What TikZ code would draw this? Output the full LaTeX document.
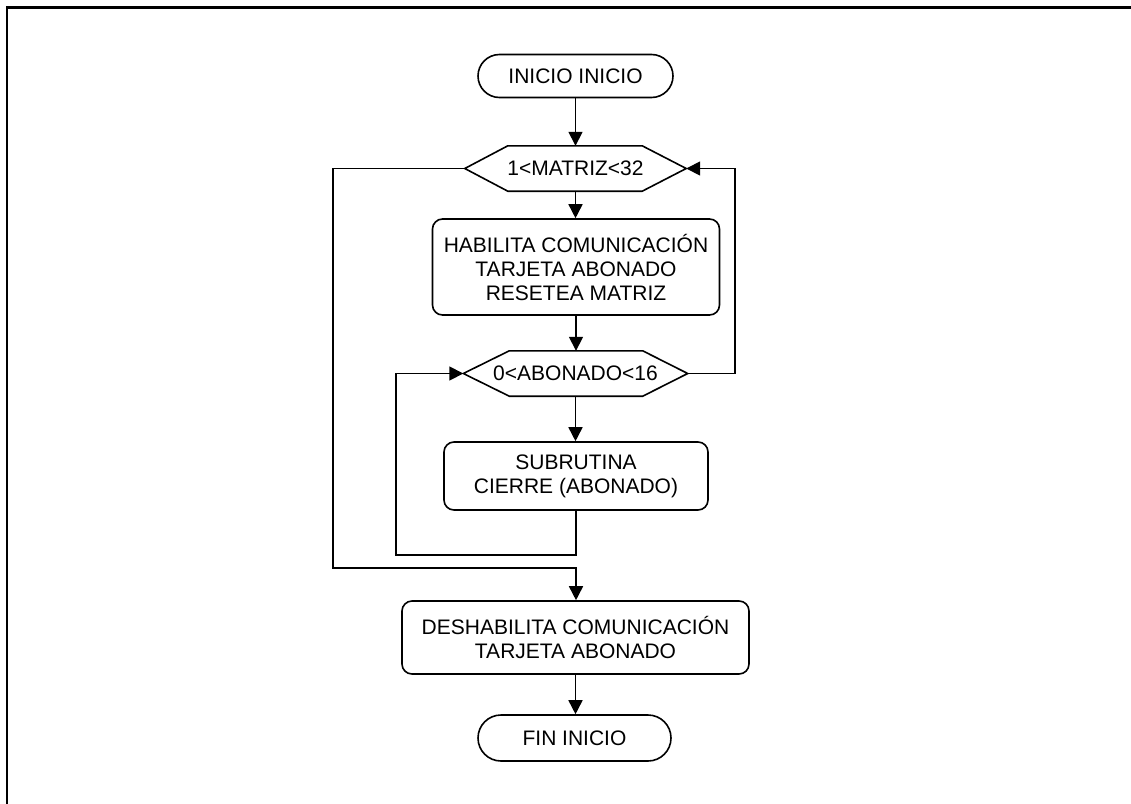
\documentclass[tikz,border=0pt]{standalone}
\usepackage{fontspec}
\setmainfont{Liberation Sans}
\usetikzlibrary{arrows.meta,shapes.misc,calc}
\begin{document}
\begin{tikzpicture}[x=1pt,y=-1pt,
  every node/.style={font=\fontsize{21}{24}\selectfont, align=center, inner sep=0pt},
  term/.style={rounded rectangle, draw, line width=1.6pt, minimum width=195, minimum height=43},
  proc/.style={rectangle, rounded corners=10, draw, line width=1.6pt},
  hexa/.style={rectangle, draw=none, minimum height=45},
  conn/.style={line width=1.6pt},
  arr/.style={conn, -{Triangle[length=14pt,width=14pt]}}]
\useasboundingbox (0,0) rectangle (1131,803);
\draw[line width=2.6pt] (7,830) -- (7,7.5) -- (1140,7.5);

\node[term] (t1) at (575.5,76) {INICIO INICIO};
\node[hexa, minimum width=221] (h1) at (575.5,168.5) {1<MATRIZ<32};
\draw[conn] (h1.west) -- ($(h1.north west)+(43,0)$) -- ($(h1.north east)+(-44,0)$) -- (h1.east)
  -- ($(h1.south east)+(-44,0)$) -- ($(h1.south west)+(43,0)$) -- cycle;
\node[proc, minimum width=287, minimum height=96] (b1) at (576,267) {HABILITA COMUNICACIÓN\\TARJETA ABONADO\\RESETEA MATRIZ};
\node[hexa, minimum width=224] (h2) at (575.5,373.5) {0<ABONADO<16};
\draw[conn] (h2.west) -- ($(h2.north west)+(46,0)$) -- ($(h2.north east)+(-45,0)$) -- (h2.east)
  -- ($(h2.south east)+(-45,0)$) -- ($(h2.south west)+(46,0)$) -- cycle;
\node[proc, minimum width=264, minimum height=68] (b2) at (576,476) {SUBRUTINA\\CIERRE (ABONADO)};
\node[proc, minimum width=347, minimum height=73] (b3) at (575.5,637.5) {DESHABILITA COMUNICACIÓN\\TARJETA ABONADO};
\node[term, minimum width=193, minimum height=46] (t2) at (574.5,738) {FIN INICIO};

\coordinate (c1) at (576,555);
\coordinate (c2) at (396,555);
\coordinate (c3) at (396,373.5);
\coordinate (r1) at (735,373.5);
\coordinate (r2) at (735,168.5);
\coordinate (l1) at (333,168.5);
\coordinate (l2) at (333,568);
\coordinate (l3) at (576,568);

\draw[arr] (t1.south -| h1.north) -- (h1.north);
\draw[arr] (h1.south) -- (h1.south |- b1.north);
\draw[arr] (b1.south) -- (b1.south |- h2.north);
\draw[arr] (h2.south) -- (h2.south |- b2.north);
\draw[arr] (b2.south) -- (c1) -- (c2) -- (c3) -- (h2.west);
\draw[arr] (h2.east) -- (r1) -- (r2) -- (h1.east);
\draw[arr] (h1.west) -- (l1) -- (l2) -- (l3) -- (l3 |- b3.north);
\draw[arr] (b3.south) -- (b3.south |- t2.north);
\end{tikzpicture}
\end{document}
